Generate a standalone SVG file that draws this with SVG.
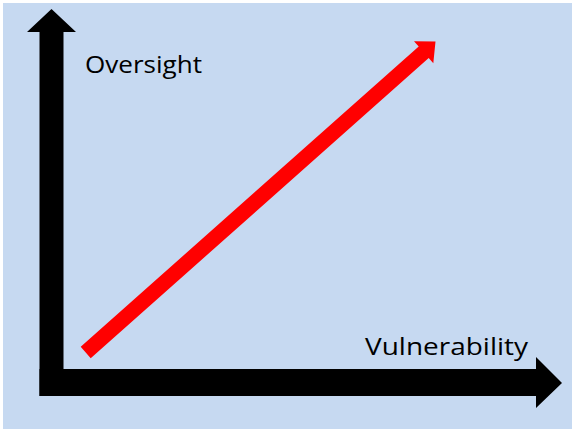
<svg xmlns="http://www.w3.org/2000/svg" width="572" height="429" viewBox="0 0 572 429">
<style>
.axis{fill:#000000}
.trend{fill:#FF0000}
.lbl{font-family:"Open Sans","Liberation Sans",sans-serif;font-size:24px;fill:#000000}
</style>
<rect x="0" y="0" width="572" height="429" fill="#FFFFFF"/>
<rect id="background" x="3" y="3" width="569" height="426" fill="#C6D9F1"/>
<g id="connectors">
<polygon id="y-axis" class="axis" points="39.5,396 39.5,32 27,32 51.5,9 76,32 63.5,32 63.5,396"/>
<polygon id="x-axis" class="axis" points="39.5,369 536,369 536,357 562,383 536,408 536,396 39.5,396"/>
<polygon id="trend" class="trend" points="80.7,346.7 418.7,46.6 414,41.3 435.5,41.5 433.3,63.3 428.7,58 90.7,358.3"/>
</g>
<g id="label-oversight"><text class="lbl" x="85" y="73" textLength="117" lengthAdjust="spacingAndGlyphs">Oversight</text></g>
<g id="label-vulnerability"><text class="lbl" x="365" y="355" textLength="163" lengthAdjust="spacingAndGlyphs">Vulnerability</text></g>
</svg>
